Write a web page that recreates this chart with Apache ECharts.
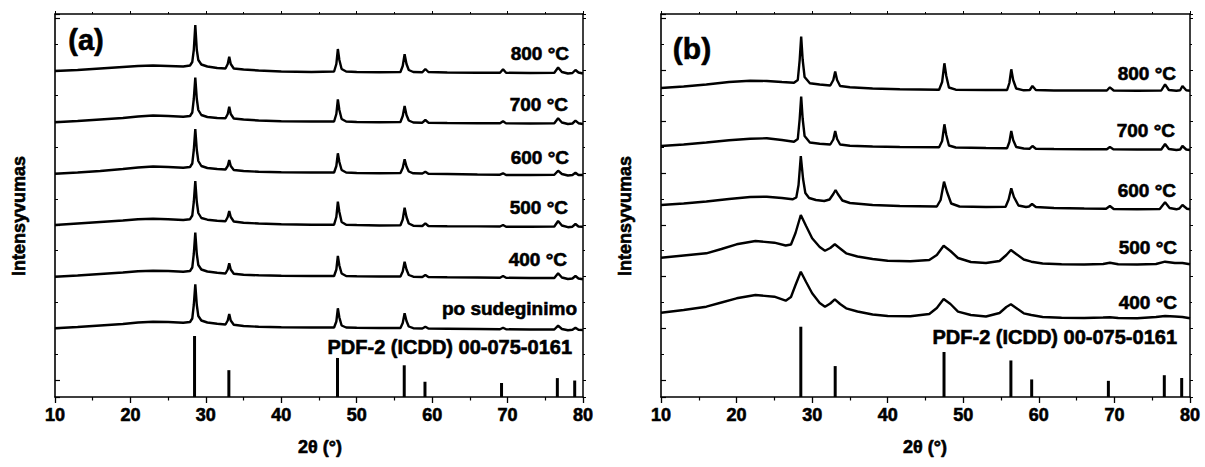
<!DOCTYPE html>
<html>
<head>
<meta charset="utf-8">
<script src="https://cdn.jsdelivr.net/npm/echarts@6/dist/echarts.min.js"></script>
<style>
html,body{margin:0;padding:0;background:#fff;}
#c{width:1205px;height:467px;}
</style>
</head>
<body>
<div id="c"></div>
<script>
// ---------- DATA ----------
// Panel (a): common 2θ grid
var xA = [10,13,16,19,21,23,25,27,27.9,28.2,28.4,28.6,28.8,29.0,29.4,30.2,31.5,32.6,32.9,33.1,33.3,33.7,35,37,40,44,47.0,47.3,47.5,47.7,48.0,48.6,50,53,55.8,56.1,56.35,56.6,56.9,57.5,58.7,59.1,59.5,62,66,69.0,69.4,69.8,73,76.2,76.7,77.2,78.0,78.6,79.0,79.4,80];
var a800 = [326,327,328.5,330,331,331.5,331,330.5,331.5,335,347,372,347,337,332.5,330.5,329,328.5,333,340.3,333,328.5,327.5,326.5,325.5,325,325.5,333,348,337,328,325.5,325,324.7,325,331,342.7,333,327,325,324.7,328,325,324.5,324.3,324.3,327.7,324.2,324,324.2,329.5,325,323.5,324,327,324.5,323.5];
var a700 = [274.7,276,277.5,279,280.5,281.5,281,280.3,281,284.5,298,319.3,298,287,282,280,279,278.7,283,290.3,283,278.5,277.5,276.5,275.8,275.5,275.5,283,297.7,287,278,275.5,275,274.7,275,281,291,282,276.5,274.5,274.3,277,274.3,274,273.8,273.7,275.8,273.6,273.5,273.7,278.7,274.5,273,273.5,276.3,273.8,273];
var a600 = [223.3,224.5,226,228,229.5,230.5,230,229.3,230,233.5,247,268,247,236,231,229,228,227.5,231,237,231,227,226,225.3,224.8,224.5,224.5,231,243.7,235,227,224.5,224,223.8,224,229,237.7,230.5,225.5,223.7,223.5,225.3,223.3,223,222.5,222.3,223.7,222,222,222.2,226.3,223,221.5,222,224.3,222,222];
var a500 = [172,173.5,175,176.5,177.8,178.3,177.8,177,177.8,181.5,195,216,195,184,179,177.3,176.3,175.8,180,186,180,175.5,174.3,173.5,172.8,172.3,172.3,180,195.3,185,175,172.3,172,171.5,171.7,177.5,189.3,180,173.5,171.3,171,173.7,171,170.8,170.6,170.5,172,170.3,170.3,170.5,176,171.5,169.8,170.3,173,170.5,170.3];
var a400 = [120.3,121.5,123,124.5,125.8,126.3,126,125.3,126,129.5,143,164.3,143,132,127.5,125.5,124.3,123.5,127.5,133.7,127.5,123.3,122.3,121.7,121.3,121,121,127.5,141,131.5,123.5,121,120.7,120.5,120.5,125.5,135.3,127.5,122,120.3,120,122,120,119.7,119.5,119.3,121,119.2,119,119,123.7,119.5,118,118.5,121,118.5,117.7];
var aPo  = [68.7,70,71.5,73,74.5,75.3,75,74.3,75,78.5,92,112.7,92,81,76.5,74.5,73.3,72.5,76.5,83,76.5,72.3,71,70.3,69.8,69.5,69.5,75.5,88.7,79.5,71.5,69.5,69.2,69,69,74,83.7,76,70.5,68.8,68.5,70.3,68.5,68.3,68,67.8,69.3,67.7,67.5,67.5,71.3,68,66.8,67.2,69.3,67.3,67];

// Panel (b)
var xB1 = [10,13,16,19,21.8,24,26,27.6,28.1,28.35,28.55,28.75,29.0,29.7,31,32.4,32.8,33.05,33.3,33.7,35,38,41.6,46.8,47.2,47.5,47.75,48.1,49,53,55.8,56.1,56.35,56.6,57.0,58,58.8,59.15,59.6,62,66,69.0,69.4,69.9,73,76.2,76.7,77.2,78.2,78.7,79.0,79.5,80];
var b800 = [309,310.5,312.5,315,316.3,316,315,314.3,317,337,360.3,337,320,313.7,312.5,311.5,317,325.5,317,311,309.7,308.5,307.7,307.3,315,333.7,321,309.5,307.3,307,307,314,327.7,317,308.5,306.7,307,311,307,306.5,306.5,306.5,309.7,306.5,306.3,306.5,312.7,307,306.3,306.7,311,306.7,306.3];
var b700 = [251,252.5,254.5,256.7,258.3,258.7,257,255.3,258,278,300.3,278,261,254.5,253.3,252.5,257.5,266,258,252.5,251.3,250.5,250,249.7,256,272.7,262,251.5,249.5,249,248.8,255,266,257,250,248.5,248.3,251,248.2,248,247.8,247.7,250,247.6,247.5,247.5,253,248,247,247.5,251,247.5,247];
var xB2 = [10,13,16,19,21.8,24,26,27.4,27.9,28.2,28.5,28.8,29.1,29.6,30.5,31.6,32.3,32.8,33.1,33.4,34.0,35,38,41.6,46.5,47.0,47.45,47.85,48.4,49.5,53,55.6,56.0,56.35,56.7,57.3,58.3,58.7,59.1,59.6,62,66,68.9,69.4,69.9,73,76.0,76.7,77.3,78.2,78.6,79.0,79.6,80];
var b600 = [192,193.5,195.5,198,200,200.3,199,197.7,199.5,212,241,218,204,199,197,196,197.5,203,207,203,196.5,194,192,191,190.5,197,215.3,205,193.5,190.5,190,190.3,197.5,208.7,200,191.5,190,190.5,193,190,189,188.5,188.3,191,188,187.7,188,194.7,189,187.7,188.5,192,188.3,187.7];
var xB3 = [10,13,16,18,20,22.5,25,26.5,27.2,27.8,28.5,29.2,30,31,31.7,32.4,33.0,33.7,34.5,36,38,40,43,45.5,46.5,47.4,48.3,49.3,51,53,54.8,55.7,56.3,57.0,58,59.0,60.5,63,66,68.5,69.4,70.5,73,75.5,76.7,78,79,80];
var b500 = [139.3,141.5,143.7,148,152.7,156,154.3,151.5,152.5,164,182,171,158.7,150,146.3,149,152.7,148.5,143.7,140.5,138,136.3,135.7,137,142,151.3,146,139,135,134,136,142,147,143,137.5,135.3,133.5,132.7,132.5,133,134.3,132.7,132.5,133,135.3,134,134,132.7];
var b400 = [84.3,87,90.3,94.5,98.7,102,100.3,96.3,100,112,125.3,115,103.7,94,90.3,93.5,97.7,93,88.7,85.5,82.5,81,80.7,83,89,98,93,85.3,82,80.5,84,90,92.7,89,83.7,82,80,79.3,79,79.5,79.7,79,78.7,80,81,80.5,80,78.7];

// Reference pattern PDF-2 (ICDD) 00-075-0161
var stickPos = [28.5,33.05,47.45,56.3,59.05,69.2,76.6,78.9];
var stickInt = [100,44,64,52,25,23,31,27];

// Text
var labelsA = ['800 °C','700 °C','600 °C','500 °C','400 °C','po sudeginimo'];
var labelsB = ['800 °C','700 °C','600 °C','500 °C','400 °C'];
var refLabel = 'PDF-2 (ICDD) 00-075-0161';
var xTitle = '2θ (°)';
var yTitle = 'Intensyvumas';

// ---------- CHART ----------
function pairs(xs, ys){ return xs.map(function(x,i){ return [x, ys[i]]; }); }
var FONT = 'Liberation Sans, Arial, Helvetica, sans-serif';
var lineCol = '#000';

function xAxes(gridIndex){
  return [{
    gridIndex: gridIndex, type:'value', min:10, max:80, interval:10, position:'bottom',
    axisLine:{show:true, onZero:false, lineStyle:{color:lineCol, width:1.6}},
    axisTick:{show:true, inside:false, length:6, lineStyle:{color:lineCol, width:1.3}},
    minorTick:{show:true, splitNumber:2, length:3.5, lineStyle:{color:lineCol, width:1.2}},
    axisLabel:{show:true, color:'#000', fontFamily:FONT, fontWeight:'bold', fontSize:18, margin:9,
      textBorderColor:'#000', textBorderWidth:0.6},
    splitLine:{show:false}
  },{
    gridIndex: gridIndex, type:'value', min:10, max:80, interval:10, position:'top',
    axisLine:{show:true, onZero:false, lineStyle:{color:lineCol, width:1.5}},
    axisTick:{show:true, inside:false, length:3, lineStyle:{color:lineCol, width:1}},
    minorTick:{show:true, splitNumber:2, length:2, lineStyle:{color:lineCol, width:1}},
    axisLabel:{show:false}, splitLine:{show:false}
  }];
}
function yAxes(gridIndex, stickMax){
  return [{
    gridIndex:gridIndex, type:'value', position:'left', min:-3.29, max:70.79, minInterval:10, maxInterval:10,
    axisLine:{show:true, onZero:false, lineStyle:{color:lineCol, width:1.6}},
    axisTick:{show:true, inside:true, length:5, lineStyle:{color:lineCol, width:1.2}},
    minorTick:{show:true, splitNumber:2, length:3, lineStyle:{color:lineCol, width:1}},
    axisLabel:{show:false}, splitLine:{show:false}
  },{
    gridIndex:gridIndex, type:'value', position:'right', min:-3.29, max:70.79, minInterval:10, maxInterval:10,
    axisLine:{show:true, onZero:false, lineStyle:{color:lineCol, width:1.5}},
    axisTick:{show:true, inside:false, length:3, lineStyle:{color:lineCol, width:1}},
    minorTick:{show:true, splitNumber:2, length:2, lineStyle:{color:lineCol, width:1}},
    axisLabel:{show:false}, splitLine:{show:false}
  },{
    gridIndex:gridIndex, type:'value', min:0, max:383, show:false
  },{
    gridIndex:gridIndex, type:'value', min:0, max:stickMax, show:false
  }];
}
function curve(xs, ys, xi, yi){
  return {type:'line', xAxisIndex:xi, yAxisIndex:yi, data:pairs(xs, ys), showSymbol:false, symbol:'none',
    smooth:false, lineStyle:{color:'#000', width:2.4}, silent:true, animation:false, z:3};
}
function sticks(xi, yi){
  return {type:'bar', xAxisIndex:xi, yAxisIndex:yi, data:pairs(stickPos, stickInt), barWidth:3,
    itemStyle:{color:'#000'}, silent:true, animation:false};
}
function txt(x, y, s, size, align, rot){
  var o = {type:'text', x:x, y:y, silent:true,
    style:{text:s, fill:'#000', fontFamily:FONT, fontWeight:'bold', fontSize:size,
      align:align||'right', verticalAlign:'middle', stroke:'#000', lineWidth:0.6}};
  if (rot) o.rotation = rot;
  return o;
}

var chart = echarts.init(document.getElementById('c'), null, {renderer:'svg'});
var graphics = [
  txt(86, 40, '(a)', 29, 'center'),
  txt(692, 48, '(b)', 30, 'center'),
  txt(569, 53, labelsA[0], 19), txt(568, 104, labelsA[1], 19), txt(569, 157, labelsA[2], 19),
  txt(568, 207, labelsA[3], 19), txt(567, 259, labelsA[4], 19), txt(577, 308, labelsA[5], 19),
  txt(572, 347, refLabel, 20),
  txt(1176, 73, labelsB[0], 19), txt(1175, 130, labelsB[1], 19), txt(1176, 190, labelsB[2], 19),
  txt(1177, 247, labelsB[3], 19), txt(1177, 302, labelsB[4], 19),
  txt(1177, 337, refLabel, 20),
  txt(320, 447, xTitle, 18, 'center'),
  txt(925, 447, xTitle, 18, 'center'),
  txt(19, 216, yTitle, 18, 'center', Math.PI/2),
  txt(625, 216, yTitle, 18, 'center', Math.PI/2)
];

chart.setOption({
  animation:false,
  backgroundColor:'#fff',
  grid:[
    {left:55, top:14, width:528, height:383},
    {left:661, top:14, width:529, height:383}
  ],
  xAxis: xAxes(0).concat(xAxes(1)),
  yAxis: yAxes(0, 628).concat(yAxes(1, 545)),
  series:[
    curve(xA, a800, 0, 2), curve(xA, a700, 0, 2), curve(xA, a600, 0, 2),
    curve(xA, a500, 0, 2), curve(xA, a400, 0, 2), curve(xA, aPo, 0, 2),
    sticks(0, 3),
    curve(xB1, b800, 2, 6), curve(xB1, b700, 2, 6), curve(xB2, b600, 2, 6),
    curve(xB3, b500, 2, 6), curve(xB3, b400, 2, 6),
    sticks(2, 7)
  ],
  graphic: graphics
});
</script>
</body>
</html>
